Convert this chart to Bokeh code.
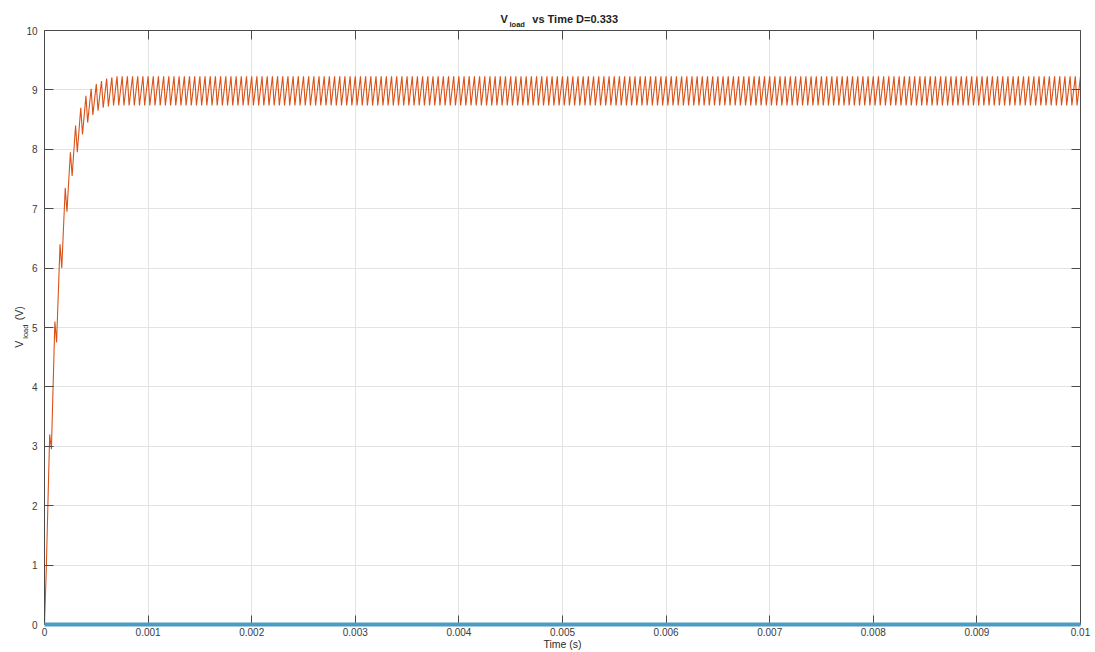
import math
from bokeh.plotting import figure
from bokeh.models import Label, LinearAxis, FixedTicker, Range1d
from bokeh.embed import file_html
from bokeh.resources import INLINE

# Boost converter switching parameters
switch_period = 5e-5      # s (20 kHz)
duty = 0.333
t_end = 0.01              # s

# Output voltage at the start of each switching cycle during start-up (V)
startup_peaks = [0.0, 3.2, 5.1, 6.4, 7.35, 7.95, 8.4, 8.7, 8.9, 9.02, 9.1, 9.15, 9.19, 9.21]
# Output voltage at the end of each on-interval during start-up (V)
startup_valleys = [0.9, 2.95, 4.75, 6.0, 6.95, 7.55, 7.95, 8.25, 8.45, 8.58, 8.65, 8.7, 8.72, 8.74]
# Steady-state ripple limits (V)
steady_peak = 9.23
steady_valley = 8.74

# Second trace, flat along zero
second_trace_t = [0.0, 0.01]
second_trace_v = [0.0, 0.0]

x_ticks = [0, 0.001, 0.002, 0.003, 0.004, 0.005, 0.006, 0.007, 0.008, 0.009, 0.01]
x_tick_labels = ["0", "0.001", "0.002", "0.003", "0.004", "0.005",
                 "0.006", "0.007", "0.008", "0.009", "0.01"]
y_ticks = [0, 1, 2, 3, 4, 5, 6, 7, 8, 9, 10]

# Assemble the switched waveform cycle by cycle
n_cycles = int(round(t_end / switch_period))
peaks = startup_peaks + [steady_peak] * (n_cycles + 1 - len(startup_peaks))
valleys = startup_valleys + [steady_valley] * (n_cycles - len(startup_valleys))
t_load, v_load = [], []
for k in range(n_cycles):
    t0 = k * switch_period
    t_load += [t0, t0 + duty * switch_period]
    v_load += [peaks[k], valleys[k]]
t_load.append(t_end)
v_load.append(peaks[n_cycles])

FONT = "Liberation Sans"
TICK_COLOR = "#4a4a4a"
LABEL_COLOR = "#3a3a3a"
NBSP = "\u00a0"

p = figure(
    frame_width=1036, frame_height=594,
    min_border_left=44, min_border_right=15, min_border_top=30, min_border_bottom=28,
    x_range=Range1d(0, 0.01), y_range=Range1d(0, 10),
    output_backend="svg", toolbar_location=None,
    background_fill_color="white", border_fill_color="white",
)
p.outline_line_color = None

xt = FixedTicker(ticks=x_ticks)
yt = FixedTicker(ticks=y_ticks)

for ax in p.xaxis:
    ax.ticker = xt
    ax.major_label_overrides = {v: s for v, s in zip(x_ticks, x_tick_labels)}
    ax.major_label_standoff = 3
for ax in p.yaxis:
    ax.ticker = yt
    ax.major_label_standoff = 7

# box axes on the top and right: inward ticks only, no labels
top_axis = LinearAxis(ticker=xt)
right_axis = LinearAxis(ticker=yt)
p.add_layout(top_axis, "above")
p.add_layout(right_axis, "right")

for ax in [*p.xaxis, *p.yaxis]:
    ax.major_tick_in = 9
    ax.major_tick_out = 0
    ax.minor_tick_in = 0
    ax.minor_tick_out = 0
    ax.major_tick_line_color = TICK_COLOR
    ax.axis_line_color = TICK_COLOR
    ax.major_label_text_font = FONT
    ax.major_label_text_font_size = "10px"
    ax.major_label_text_color = LABEL_COLOR
for ax in (top_axis, right_axis):
    ax.major_label_text_font_size = "0px"
    ax.major_label_text_color = None
    ax.major_label_standoff = 0
# the zero trace runs along the bottom edge
p.below[0].axis_line_color = None

p.xgrid.ticker = xt
p.ygrid.ticker = yt
p.grid.grid_line_color = "#e3e3e3"
p.grid.grid_line_width = 1

p.line(t_load, v_load, line_color="#D95319", line_width=1.1)
p.line(second_trace_t, second_trace_v, line_color="#4a9cc4", line_width=4, level="overlay")

# Title with subscript (the gap after "V" leaves room for "load")
title_style = dict(text_font=FONT, text_font_style="bold", text_color="#222222",
                   text_baseline="alphabetic", text_align="left")
p.add_layout(Label(x=0.005, y=10, x_offset=-62, y_offset=12,
                   text="V" + NBSP * 8 + "vs Time D=0.333",
                   text_font_size="11px", **title_style), "above")
p.add_layout(Label(x=0.005, y=10, x_offset=-53, y_offset=6, text="load",
                   text_font_size="7.5px", **title_style), "above")

# Y axis title with subscript
axis_title_style = dict(text_font=FONT, text_color="#2a2a2a", text_baseline="alphabetic",
                        text_align="left")
p.add_layout(Label(x=0, y=4.66, x_offset=-26, angle=math.pi / 2,
                   text="V" + NBSP * 7 + "(V)",
                   text_font_size="10.5px", **axis_title_style), "left")
p.add_layout(Label(x=0, y=4.81, x_offset=-19, angle=math.pi / 2, text="load",
                   text_font_size="7.5px", **axis_title_style), "left")

# X axis title
p.add_layout(Label(x=0.005, y=0, y_offset=-19, text="Time (s)",
                   text_font_size="10.5px", **{**axis_title_style, "text_align": "center"}),
             "right")

open("out.html", "w").write(file_html(p, INLINE))
